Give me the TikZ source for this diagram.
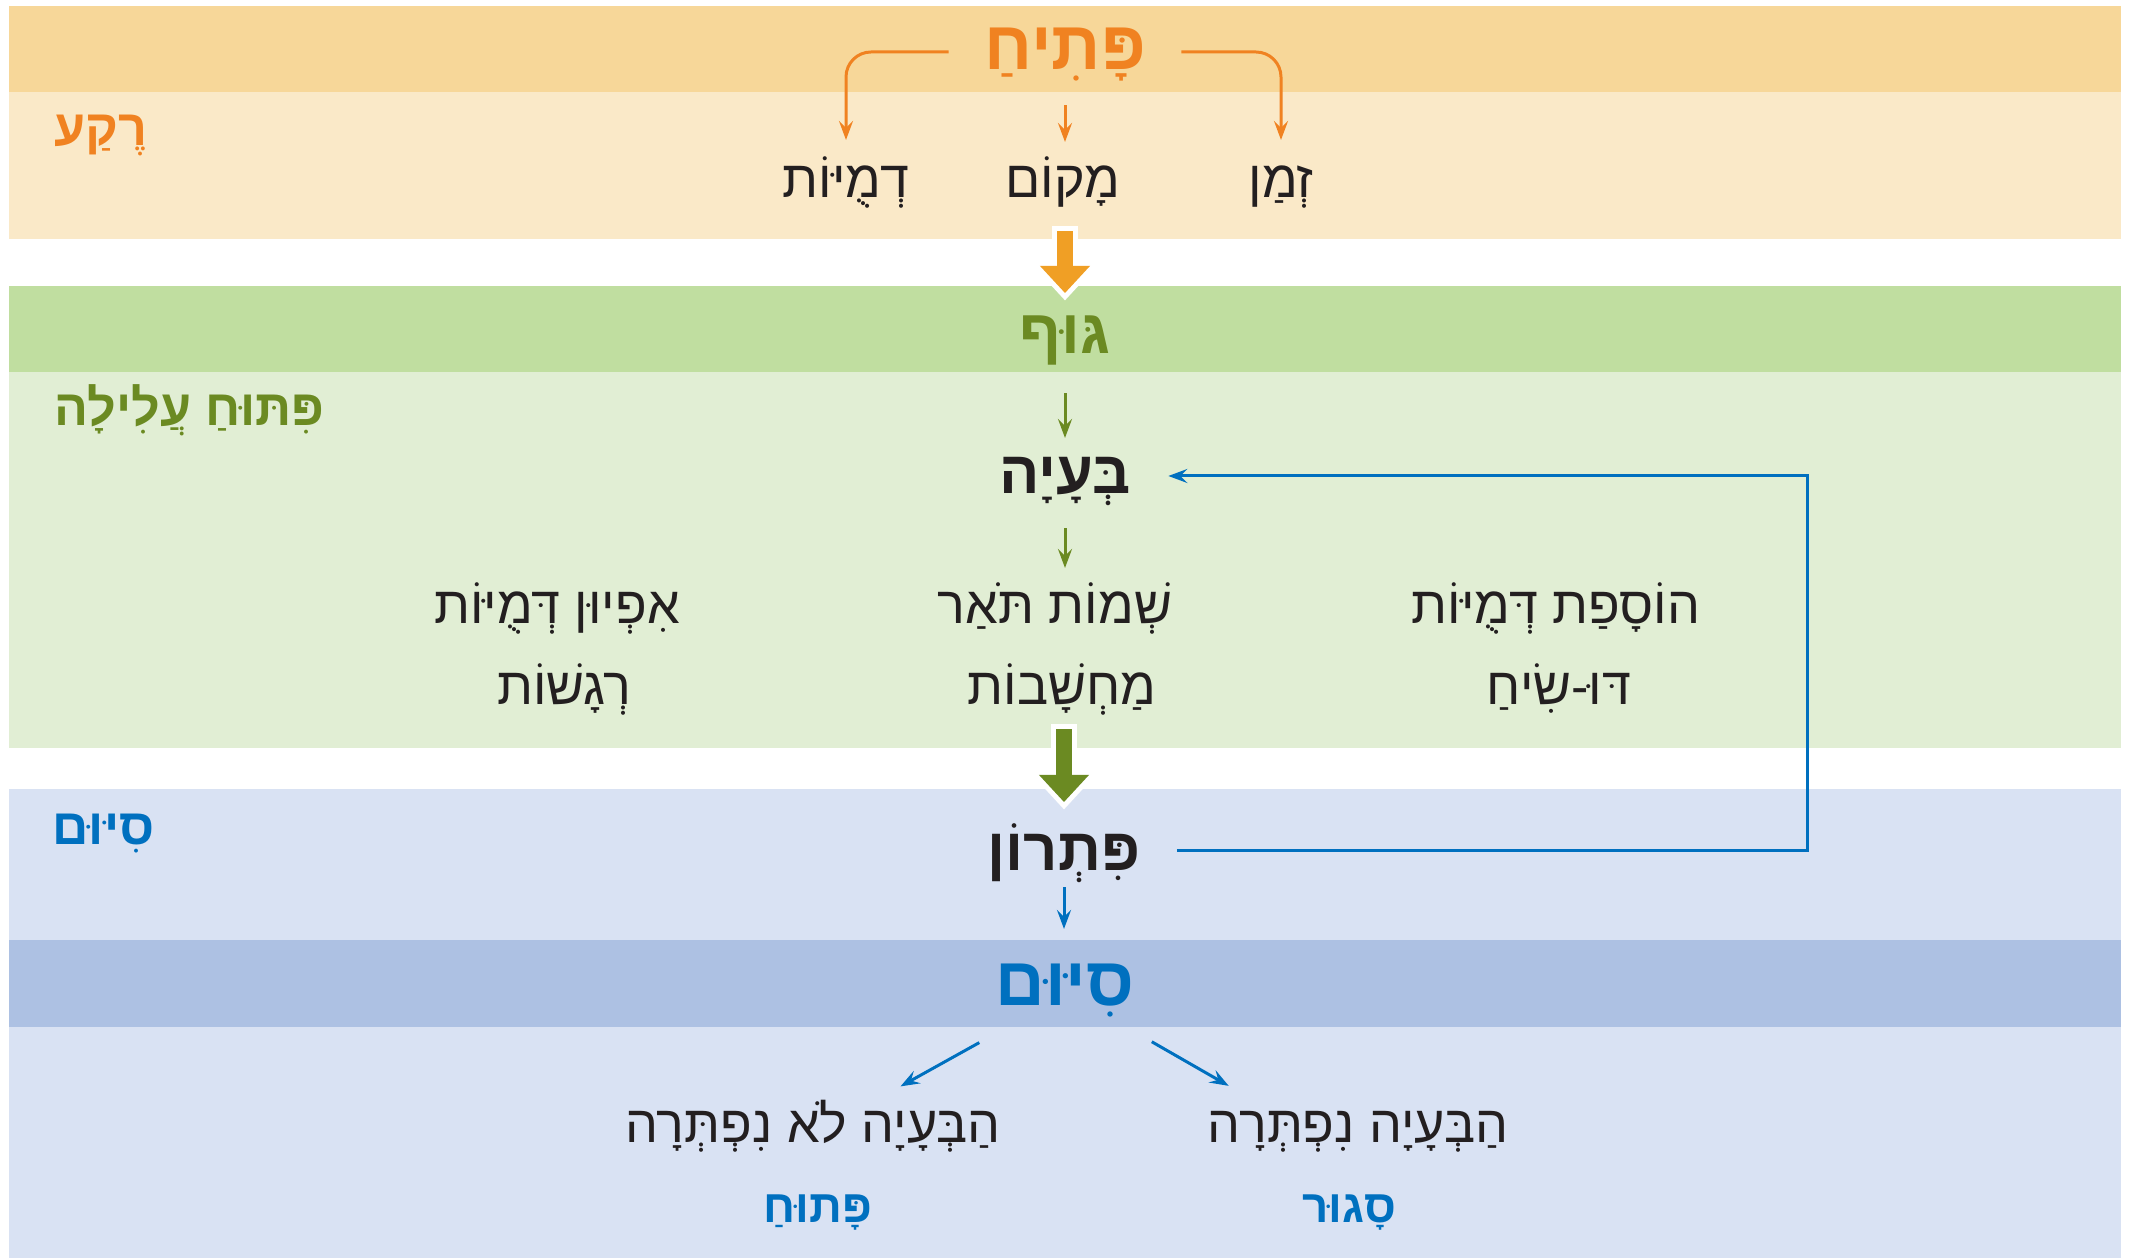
\documentclass[tikz,border=0pt]{standalone}
\usepackage{xcolor}
\usepackage{fontspec}
\usetikzlibrary{arrows.meta}
\TeXXeTstate=1
\newfontfamily\hebfont[Script=Hebrew]{Liberation Sans}
\definecolor{orangedark}{HTML}{F7D799}
\definecolor{orangelight}{HTML}{FAE9C8}
\definecolor{orangeink}{HTML}{F08221}
\definecolor{orangearrow}{HTML}{F09F25}
\definecolor{greendark}{HTML}{C0DEA0}
\definecolor{greenlight}{HTML}{E1EED4}
\definecolor{greenink}{HTML}{6B8A22}
\definecolor{bluelight}{HTML}{D9E2F3}
\definecolor{bluedark}{HTML}{ADC1E3}
\definecolor{blueink}{HTML}{0070BF}
\definecolor{ink}{HTML}{231F20}
\newcommand{\heb}[1]{\beginR #1\endR}

\begin{document}
\begin{tikzpicture}[x=0.01cm, y=-0.01cm,
    txt/.style={anchor=base, inner sep=0pt, text=ink, font=\hebfont\fontsize{14.8}{17}\selectfont},
    head/.style={txt, font=\hebfont\bfseries\fontsize{19.5}{22}\selectfont},
    key/.style={txt, font=\hebfont\bfseries\fontsize{17}{19}\selectfont},
    side/.style={txt, anchor=base west, font=\hebfont\bfseries\fontsize{14.3}{16}\selectfont},
    tip/.style={-{Stealth[length=0.19cm, width=0.14cm, inset=0.07cm]}},
    thin/.style={tip, line width=0.85pt},
    bracket/.style={thin, draw=orangeink, rounded corners=0.25cm},
    bigarrow/.style 2 args={line width=0.16cm, shorten <=#1, shorten >=#2,
        -{Triangle[length=0.27cm, width=0.5cm, line width=0pt]},
        preaction={draw=white, line width=0.26cm, shorten <=#1-0.05cm, shorten >=#2-0.074cm,
        -{Triangle[length=0.39cm, width=0.72cm, line width=0pt]}}}]
\useasboundingbox (0,0) rectangle (2132,1258);

% bands
\fill[orangedark] (9,6) rectangle (2121,92);
\fill[orangelight] (9,92) rectangle (2121,239);
\fill[greendark] (9,286) rectangle (2121,372);
\fill[greenlight] (9,372) rectangle (2121,748);
\fill[bluelight] (9,789) rectangle (2121,940);
\fill[bluedark] (9,940) rectangle (2121,1027);
\fill[bluelight] (9,1027) rectangle (2121,1258);

\node (reka) at (54, 146) [side, text=orangeink] {\heb{רֶקַע}};
\node (alila) at (54, 426) [side, text=greenink] {\heb{פִּתּוּחַ עֲלִילָה}};
\node (sof) at (52, 845) [side, text=blueink] {\heb{סִיּוּם}};

\node (ptiach) at (1065, 70) [head, text=orangeink] {\heb{פָּתִיחַ}};
\node (dmuyot) at (846, 198) [txt] {\heb{דְמֻיּוֹת}};
\node (makom) at (1063, 198) [txt] {\heb{מָקוֹם}};
\node (zman) at (1281, 198) [txt] {\heb{זְמַן}};

\node (guf) at (1065, 354) [key, text=greenink, font=\hebfont\bfseries\fontsize{17.7}{20}\selectfont] {\heb{גּוּף}};
\node (baaya) at (1065, 494) [key] {\heb{בְּעָיָה}};

\node (ofi) at (557, 624) [txt] {\heb{אִפְיוּן דְּמֻיּוֹת}};
\node (regashot) at (564, 705) [txt] {\heb{רְגָשׁוֹת}};
\node (shmot) at (1055, 624) [txt] {\heb{שְׁמוֹת תֹּאַר}};
\node (machshavot) at (1062, 705) [txt] {\heb{מַחְשָׁבוֹת}};
\node (tosefet) at (1556, 624) [txt] {\heb{הוֹסָפַת דְּמֻיּוֹת}};
\node (siach) at (1559, 705) [txt] {\heb{דּוּ-שִׂיחַ}};

\node (pitron) at (1064, 871) [key] {\heb{פִּתְרוֹן}};
\node (sium) at (1065, 1005) [head, text=blueink] {\heb{סִיּוּם}};

\node (lo) at (813, 1142) [txt] {\heb{הַבְּעָיָה לֹא נִפְתְּרָה}};
\node (ken) at (1358, 1142) [txt] {\heb{הַבְּעָיָה נִפְתְּרָה}};
\node (patuach) at (818, 1222) [key, text=blueink, font=\hebfont\bfseries\fontsize{13}{15}\selectfont] {\heb{פָּתוּחַ}};
\node (sagur) at (1349, 1222) [key, text=blueink, font=\hebfont\bfseries\fontsize{13}{15}\selectfont] {\heb{סָגוּר}};

\coordinate (loop) at (1807, 650);

\draw[bracket, shorten <=0.35cm, shorten >=0.58cm] ([yshift=0.18cm]ptiach.base west) -| (dmuyot.base);
\draw[bracket, shorten <=0.35cm, shorten >=0.58cm] ([yshift=0.18cm]ptiach.base east) -| (zman.base);
\draw[thin, orangeink, shorten <=0.35cm, shorten >=0.56cm] (ptiach.base) -- (ptiach.base |- makom.base);

\draw[bigarrow={0.33cm}{0.61cm}, orangearrow] (guf.base |- makom.base) -- (guf.base);
\draw[thin, greenink, shorten <=0.39cm, shorten >=0.56cm] (guf.base) -- (baaya.base);
\draw[thin, greenink, shorten <=0.34cm, shorten >=0.56cm] (baaya.base) -- (baaya.base |- shmot.base);
\draw[bigarrow={0.24cm}{0.69cm}, greenink] (pitron.base |- machshavot.base) -- (pitron.base);

\draw[thin, blueink, shorten <=0.36cm, shorten >=0.37cm] ([yshift=0.2cm]pitron.base east) -| (loop) |- ([yshift=0.18cm]baaya.base east);
\draw[thin, blueink, shorten <=0.16cm, shorten >=0.76cm] (pitron.base) -- (pitron.base |- sium.base);
\draw[thin, blueink, shorten <=0.98cm, shorten >=1cm] ([yshift=0.1cm]sium.base) -- ([yshift=0.07cm]lo.base);
\draw[thin, blueink, shorten <=1cm, shorten >=1.49cm] ([yshift=0.13cm]sium.base) -- ([yshift=-0.18cm]ken.base);
\end{tikzpicture}
\end{document}
